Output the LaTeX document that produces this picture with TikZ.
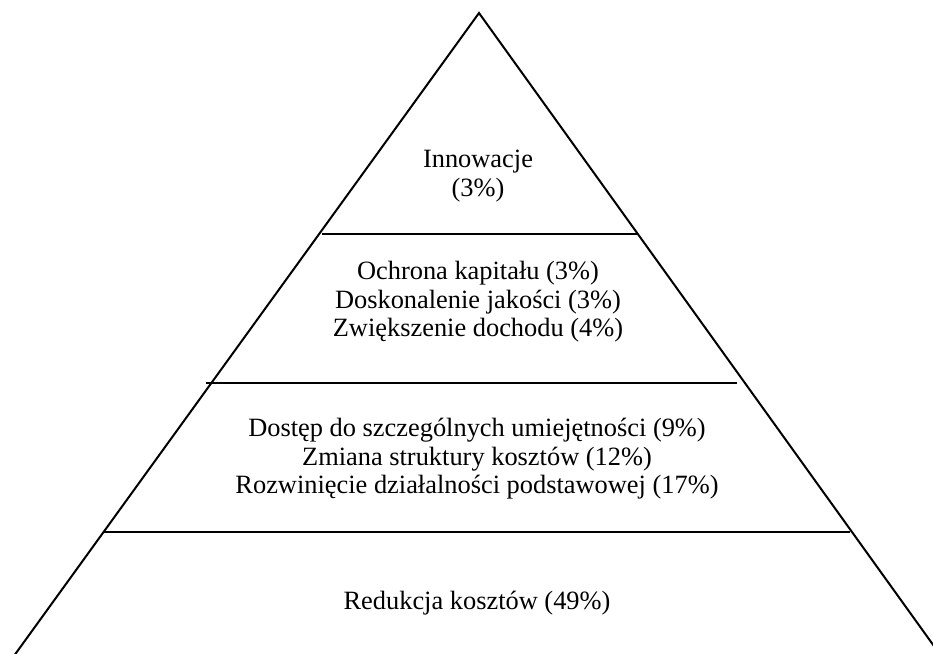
\documentclass[tikz,border=0pt]{standalone}
\usepackage{fontspec}
\setmainfont{Liberation Serif}
\begin{document}
\begin{tikzpicture}[x=0.5pt,y=-0.5pt,
  edge/.style={line width=1pt,black},
  tier/.style={line width=1.1pt,black},
  label/.style={align=center,inner sep=0pt,font=\fontsize{13.2pt}{14.3pt}\selectfont}]
  \useasboundingbox (0,0) rectangle (933,654);
  \clip (0,0) rectangle (933,654);
  % pyramid sides
  \coordinate (apex) at (479,13);
  \coordinate (bl) at (11,660);
  \coordinate (br) at (944,660);
  \draw[edge,line join=miter] (bl) -- (apex) -- (br);
  % tier separators
  \coordinate (a1) at (322,234); \coordinate (b1) at (637,234);
  \coordinate (a2) at (206,383); \coordinate (b2) at (737,383);
  \coordinate (a3) at (103,532); \coordinate (b3) at (850,532);
  \draw[tier] (a1) -- (b1);
  \draw[tier] (a2) -- (b2);
  \draw[tier] (a3) -- (b3);
  % tier labels
  \node[label] (t1) at (478,176) {Innowacje\\(3\%)};
  \node[label] (t2) at (478,302) {Ochrona kapitału (3\%)\\Doskonalenie jakości (3\%)\\Zwiększenie dochodu (4\%)};
  \node[label] (t3) at (477,459) {Dostęp do szczególnych umiejętności (9\%)\\Zmiana struktury kosztów (12\%)\\Rozwinięcie działalności podstawowej (17\%)};
  \node[label] (t4) at (477,603) {Redukcja kosztów (49\%)};
\end{tikzpicture}
\end{document}
